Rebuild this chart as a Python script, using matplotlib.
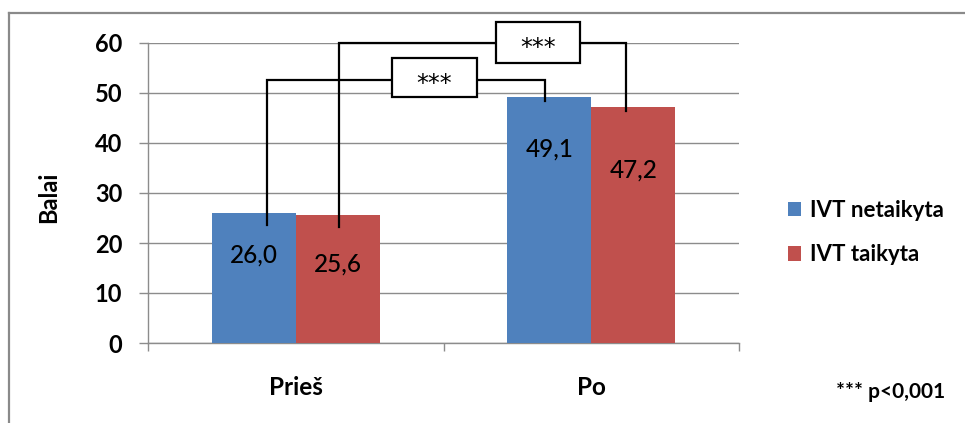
import numpy as np
import matplotlib.pyplot as plt
from matplotlib.lines import Line2D
from matplotlib.patches import Rectangle

# scores before / after, two groups
groups = ['Prieš', 'Po']
series_names = ['IVT netaikyta', 'IVT taikyta']
not_applied = [26.0, 49.1]
applied = [25.6, 47.2]
value_labels = [['26,0', '49,1'], ['25,6', '47,2']]
y_ticks = [0, 10, 20, 30, 40, 50, 60]
signif_text = '***'
note_text = '*** p<0,001'

blue = '#4F81BD'
red = '#C0504D'
grid_col = '#8c8c8c'
font = 'Lato'

plt.rcParams['font.family'] = [font, 'DejaVu Sans']

fig = plt.figure(figsize=(9.65, 4.23), dpi=100)
ax = fig.add_axes([148 / 965, 80 / 423, 591 / 965, 300 / 423])

x = np.arange(len(groups))
w = 0.284
b1 = ax.bar(x - w / 2, not_applied, w, color=blue, label=series_names[0], zorder=3)
b2 = ax.bar(x + w / 2, applied, w, color=red, label=series_names[1], zorder=3)

# labels sit inside the bars, a bit below the top
drops = [[8.4, 10.3], [9.8, 12.6]]
for k, (bars, vals) in enumerate([(b1, not_applied), (b2, applied)]):
    for i, bar in enumerate(bars):
        cx = bar.get_x() + bar.get_width() / 2
        ax.text(cx, vals[i] - drops[k][i], value_labels[k][i], ha='center',
                va='center', fontsize=17.5, fontweight='medium', zorder=5)


def bracket(x0, x1, y0, y1, level, box_x, box_y):
    ax.plot([x0, x0, x1, x1], [y0, level, level, y1], color='black', lw=1.6,
            clip_on=False, zorder=6, solid_joinstyle='miter')
    r = Rectangle((box_x[0], box_y[0]), box_x[1] - box_x[0], box_y[1] - box_y[0],
                  facecolor='white', edgecolor='black', lw=1.6, clip_on=False,
                  zorder=7)
    ax.add_patch(r)
    ax.text(sum(box_x) / 2, sum(box_y) / 2 - 1.2, signif_text, ha='center',
            va='center', fontsize=17, family='DejaVu Sans', zorder=8,
            clip_on=False)


c_blue = x - w / 2
c_red = x + w / 2
# blue before vs blue after
bracket(c_blue[0] + 0.045, c_blue[1] - 0.015, not_applied[0] - 2.4,
        not_applied[1] - 0.7, 52.6, (0.326, 0.613), (49.2, 57.0))
# red before vs red after
bracket(c_red[0] + 0.004, c_red[1] - 0.024, applied[0] - 2.4,
        applied[1] - 0.8, 60.0, (0.678, 0.962), (56.0, 64.2))

ax.set_xlim(-0.5, 1.5)
ax.set_ylim(0, 60)
ax.set_yticks(y_ticks)
ax.set_yticklabels([str(v) for v in y_ticks], fontsize=17, fontweight='bold')
ax.yaxis.grid(True, color=grid_col, lw=1.0, zorder=0)
ax.tick_params(axis='y', length=6.5, width=1.0, color=grid_col, pad=12)

ax.set_xticks(x)
ax.set_xticklabels(groups, fontsize=17.5, fontweight='bold')
ax.set_xticks([-0.5, 0.5, 1.5], minor=True)
ax.tick_params(axis='x', which='major', length=0, pad=24)
ax.tick_params(axis='x', which='minor', length=6, width=1.0, color=grid_col)

for s in ['top', 'right']:
    ax.spines[s].set_visible(False)
for s in ['left', 'bottom']:
    ax.spines[s].set_color(grid_col)
    ax.spines[s].set_linewidth(1.0)

ax.set_ylabel('Balai', fontsize=17, fontweight='bold')
ax.yaxis.set_label_coords(-0.149, 0.487)

leg = fig.legend(handles=[b1, b2], loc='upper left',
                 bbox_to_anchor=(768 / 965, 1 - 180 / 423), frameon=False,
                 prop={'size': 16, 'weight': 'bold'}, handlelength=0.6,
                 handleheight=0.6, handletextpad=0.4, labelspacing=1.05)

fig.text(945 / 965, 1 - 392 / 423, note_text, ha='right', va='center',
         fontsize=15, fontweight='bold')

# outer chart frame (only top and left edges visible)
fig.add_artist(Line2D([9 / 965, 1.0], [1 - 13 / 423] * 2, color='#8a8a8a', lw=1.6))
fig.add_artist(Line2D([9 / 965] * 2, [0.0, 1 - 13 / 423], color='#8a8a8a', lw=1.6))

fig.savefig('out.png', dpi=100)
